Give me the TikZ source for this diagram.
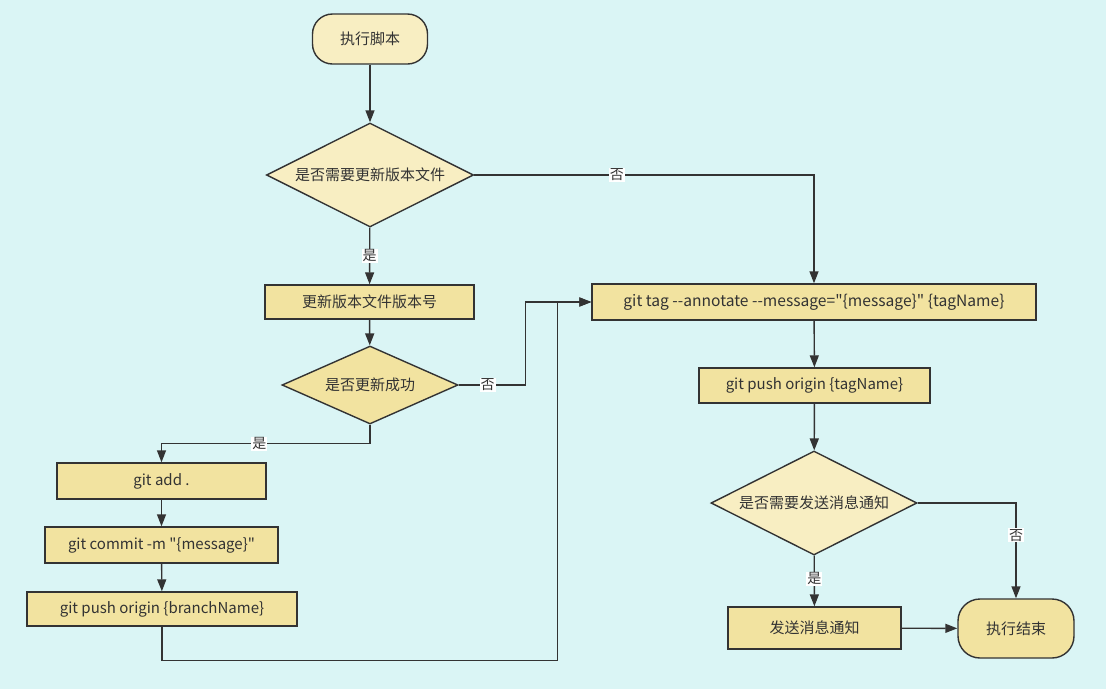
\documentclass[tikz,border=0pt]{standalone}
\usepackage{fontspec}
\setmainfont[Ligatures=TeXOff]{Noto Sans CJK SC}
\usetikzlibrary{shapes.geometric,arrows.meta}
\definecolor{bgc}{HTML}{DAF5F5}
\definecolor{darkfill}{HTML}{F2E3A0}
\definecolor{lightfill}{HTML}{F8EEC2}
\definecolor{ink}{HTML}{333333}
\begin{document}
\begin{tikzpicture}[x=1pt,y=-1pt,
  every node/.style={font=\fontsize{15}{17}\selectfont, text=ink},
  box/.style={draw=ink, line width=1.4pt, fill=darkfill, inner sep=0pt},
  term/.style={box, rounded corners=20pt},
  decide/.style={draw=ink, line width=1.4pt, diamond, inner sep=0pt},
  lbl/.style={fill=white, inner sep=1pt, font=\fontsize{14}{16}\selectfont},
  conn/.style={draw=ink, line width=1.4pt, -{Triangle[length=12pt,width=9pt]}}
]
\fill[bgc] (0,0) rectangle (1106,689);
\useasboundingbox (0,0) rectangle (1106,689);

\node[term, fill=lightfill, minimum width=115pt, minimum height=50pt] (start) at (370,39) {执行脚本};
\node[decide, fill=lightfill, aspect=2, minimum width=207pt, minimum height=104pt] (d1) at (370,175) {是否需要更新版本文件};
\node[box, minimum width=209pt, minimum height=34pt] (b1) at (369.5,302) {更新版本文件版本号};
\node[decide, fill=darkfill, aspect=2.26, minimum width=176pt, minimum height=78pt] (d2) at (370,385) {是否更新成功};
\node[box, minimum width=209pt, minimum height=36pt] (add) at (161.5,481) {git add .};
\node[box, minimum width=233pt, minimum height=36pt] (commit) at (161.5,545) {git commit -m "\{message\}"};
\node[box, minimum width=270pt, minimum height=34pt] (push) at (162,609) {git push origin \{branchName\}};
\node[box, minimum width=444pt, minimum height=36pt, font=\fontsize{15.6}{17}\selectfont] (tag) at (814,302) {git tag --annotate --message="\{message\}" \{tagName\}};
\node[box, minimum width=231pt, minimum height=35pt] (ptag) at (814.5,385.5) {git push origin \{tagName\}};
\node[decide, fill=lightfill, aspect=2, minimum width=206pt, minimum height=104pt] (d3) at (814,503) {是否需要发送消息通知};
\node[box, minimum width=173pt, minimum height=42pt] (send) at (814.5,628) {发送消息通知};
\node[term, rounded corners=22pt, minimum width=116pt, minimum height=59pt] (end) at (1016,628.5) {执行结束};

\draw[conn] (start) -- (d1);
\draw[conn] (d1) -- node[lbl]{是} (b1);
\draw[conn] (d1.east) -- node[lbl,pos=0.42]{否} (d1.east -| tag.north) -- (tag.north);
\draw[conn] (b1) -- (d2);
\draw[conn] (d2.east) -- node[lbl,pos=0.43]{否} ([xshift=67pt]d2.east) |- (tag.west);
\draw[conn] (d2.south) -- ([yshift=-19pt]d2.south) -- node[lbl,pos=0.53]{是} ([yshift=-19pt]d2.south -| add.north) -- (add.north);
\draw[conn] (add) -- (commit);
\draw[conn] (commit) -- (push);
\draw[conn] (push.south) -- ([yshift=-34pt]push.south) -| ([xshift=-34pt]tag.west) -- (tag.west);
\draw[conn] (tag) -- (ptag);
\draw[conn] (ptag) -- (d3);
\draw[conn] (d3) -- node[lbl,pos=0.46]{是} (send);
\draw[conn] (d3.east) -| node[lbl,pos=0.67]{否} (end.north);
\draw[conn] (send) -- (end);
\end{tikzpicture}
\end{document}
